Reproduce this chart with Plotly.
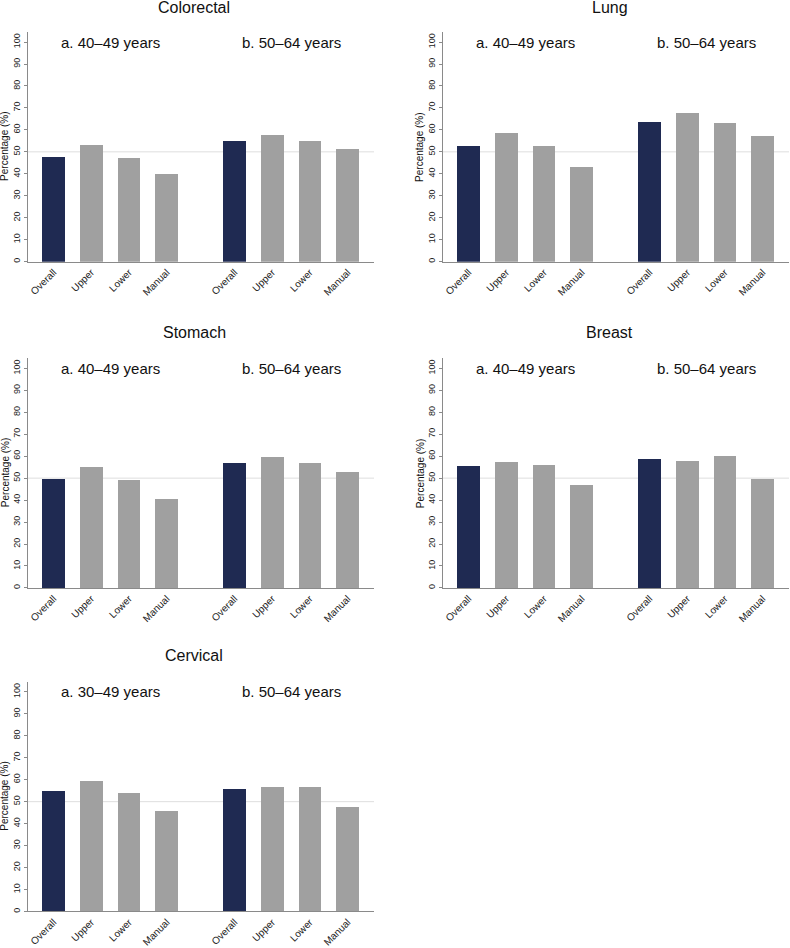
import plotly.graph_objects as go

# ---------------- data ----------------
categories = ["Overall", "Upper", "Lower", "Manual"]
cancers = ["Colorectal", "Lung", "Stomach", "Breast", "Cervical"]
group_a_labels = ["a. 40–49 years", "a. 40–49 years", "a. 40–49 years", "a. 40–49 years", "a. 30–49 years"]
group_b_label = "b. 50–64 years"

colorectal_a = [47.5, 52.9, 47.2, 39.7]
colorectal_b = [55.1, 57.5, 55.1, 51.3]
lung_a = [52.8, 58.5, 52.5, 43.3]
lung_b = [63.5, 67.9, 63.0, 57.3]
stomach_a = [49.4, 55.1, 49.1, 40.7]
stomach_b = [56.9, 59.6, 57.1, 52.6]
breast_a = [55.6, 57.2, 56.0, 46.7]
breast_b = [58.7, 57.7, 60.2, 49.7]
cervical_a = [54.8, 59.6, 54.0, 45.6]
cervical_b = [55.7, 56.9, 56.5, 47.4]

values_a = [colorectal_a, lung_a, stomach_a, breast_a, cervical_a]
values_b = [colorectal_b, lung_b, stomach_b, breast_b, cervical_b]

y_ticks = list(range(0, 101, 10))

# ---------------- layout helpers ----------------
W, H = 790, 948
NAVY = "#1f2a52"
GREY = "#a0a0a0"
AXIS = "#8a8a8a"
FONT = "Liberation Sans, Arial, sans-serif"

pos_a = [i for i in range(len(categories))]
pos_b = [i + 4.8 for i in range(len(categories))]

col_px = [(28, 374), (443, 789)]
row_px = [(32.4, 263.3), (360.7, 591.7), (686.3, 917.3)]
title_y_px = [7.3, 335, 660]
title_x_px = [194, 609.5]

fig = go.Figure()
annotations = []
shapes = []

for k, name in enumerate(cancers):
    r, c = divmod(k, 2)
    idx = "" if k == 0 else str(k + 1)
    xa, ya = "x" + idx, "y" + idx
    colors = [NAVY] + [GREY] * (len(categories) - 1)
    fig.add_trace(go.Bar(
        x=pos_a + pos_b,
        y=values_a[k] + values_b[k],
        width=0.6,
        marker=dict(color=colors + colors, line=dict(width=0)),
        xaxis=xa, yaxis=ya, showlegend=False,
        hoverinfo="skip",
    ))
    x0, x1 = col_px[c]
    y0, y1 = row_px[r]
    fig.layout["xaxis" + idx] = dict(
        domain=[x0 / W, x1 / W], anchor=ya, range=[-0.68, 8.5],
        tickvals=pos_a + pos_b, ticktext=categories + categories,
        tickangle=-45, tickfont=dict(size=10, color="#222"),
        showgrid=False, zeroline=False, showline=True, linecolor=AXIS,
        linewidth=1, ticks="", fixedrange=True,
    )
    fig.layout["yaxis" + idx] = dict(
        domain=[1 - y1 / H, 1 - y0 / H], anchor=xa, range=[0, 104.5],
        tickvals=y_ticks, tickangle=-90, tickfont=dict(size=9, color="#222"),
        showgrid=False, zeroline=False, showline=True, linecolor=AXIS,
        linewidth=1, ticks="outside", ticklen=3, tickcolor=AXIS,
        fixedrange=True,
    )
    # reference line at 50
    shapes.append(dict(type="line", xref=xa + " domain", yref=ya,
                       x0=0, x1=1, y0=50, y1=50,
                       line=dict(color="#dedede", width=1), layer="below"))
    # panel title
    annotations.append(dict(text=name, xref="paper", yref="paper",
                            x=title_x_px[c] / W, y=1 - title_y_px[r] / H,
                            showarrow=False, font=dict(size=16, color="#111"),
                            xanchor="center", yanchor="middle"))
    # group labels
    annotations.append(dict(text=group_a_labels[k], xref=xa, yref=ya,
                            x=sum(pos_a) / len(pos_a), y=100, showarrow=False,
                            font=dict(size=15, color="#111"),
                            xanchor="center", yanchor="middle"))
    annotations.append(dict(text=group_b_label, xref=xa, yref=ya,
                            x=sum(pos_b) / len(pos_b), y=100, showarrow=False,
                            font=dict(size=15, color="#111"),
                            xanchor="center", yanchor="middle"))
    # y-axis title
    annotations.append(dict(text="Percentage (%)", xref="paper", yref="paper",
                            x=(x0 - 23) / W, y=1 - ((y0 + y1) / 2) / H,
                            textangle=-90, showarrow=False,
                            font=dict(size=10, color="#111"),
                            xanchor="center", yanchor="middle"))

fig.update_layout(
    width=W, height=H, margin=dict(l=0, r=0, t=0, b=0),
    paper_bgcolor="white", plot_bgcolor="white",
    font=dict(family=FONT),
    bargap=0, annotations=annotations, shapes=shapes,
)

fig.write_html(
    "out.html",
    config={"displayModeBar": False, "staticPlot": True},
    post_script="document.body.style.margin='0';document.body.style.overflow='hidden';",
)
